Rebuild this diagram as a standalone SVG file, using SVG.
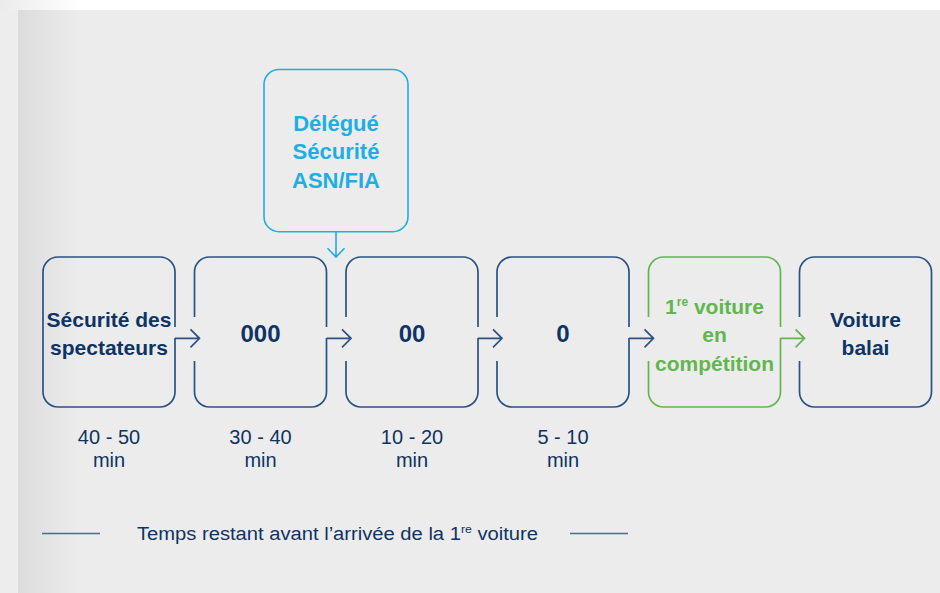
<svg xmlns="http://www.w3.org/2000/svg" width="940" height="593" viewBox="0 0 940 593">
<defs>
<linearGradient id="gTop" x1="0" y1="0" x2="1" y2="0"><stop offset="0" stop-color="#ebebeb"/><stop offset="1" stop-color="#ffffff"/></linearGradient>
<linearGradient id="gLeft" x1="0" y1="0" x2="1" y2="0"><stop offset="0" stop-color="#dcdcdc"/><stop offset="1" stop-color="#ececec"/></linearGradient>
<style>
.box{fill:none;stroke:#2a5284;stroke-width:1.7;stroke-linecap:butt}
.green{fill:none;stroke:#62b64f;stroke-width:1.7}
.cyan{fill:none;stroke:#1eaee3;stroke-width:1.6}
.conn{fill:none;stroke:#2a5284;stroke-width:1.7}
.t{font-family:"Liberation Sans",Arial,sans-serif;font-weight:bold;font-size:21px;text-anchor:middle;fill:#0e3466}
.num{font-size:24px}
.tg{fill:#62b64f}
.tc{fill:#1eaee3;font-size:22px}
.lab{font-family:"Liberation Sans",Arial,sans-serif;font-size:20px;text-anchor:middle;fill:#0e3466}
.foot{font-family:"Liberation Sans",Arial,sans-serif;font-size:18px;fill:#0e3466}
.rule{stroke:#4a6a90;stroke-width:1.6}
</style>
</defs>
<rect width="940" height="593" fill="#ffffff"/>
<rect x="0" y="0" width="80" height="10" fill="url(#gTop)"/>
<rect x="0" y="10" width="18" height="583" fill="#ededed"/>
<rect x="18" y="10" width="922" height="583" fill="#ececec"/>
<rect x="18" y="10" width="62" height="583" fill="url(#gLeft)"/>

<g id="delegue">
<rect class="cyan" x="264" y="69.5" width="144" height="162.2" rx="15"/>
<text class="t tc" x="336" y="130.5">Délégué</text>
<text class="t tc" x="336" y="159">Sécurité</text>
<text class="t tc" x="336" y="188">ASN/FIA</text>
</g>

<g id="securite-spectateurs">
<path class="box" d="M175,327 L175,272 A15,15 0 0 0 160,257 L58,257 A15,15 0 0 0 43,272 L43,392 A15,15 0 0 0 58,407 L160,407 A15,15 0 0 0 175,392 L175,338"/>
<text class="t" x="109" y="327">Sécurité des</text>
<text class="t" x="109" y="355">spectateurs</text>
</g>

<g id="n000">
<path class="box" d="M194.5,317 L194.5,272 A15,15 0 0 1 209.5,257 L311.5,257 A15,15 0 0 1 326.5,272 L326.5,327 M326.5,338 L326.5,392 A15,15 0 0 1 311.5,407 L209.5,407 A15,15 0 0 1 194.5,392 L194.5,361"/>
<text class="t num" x="260.5" y="342">000</text>
</g>

<g id="n00">
<path class="box" d="M346,317 L346,272 A15,15 0 0 1 361,257 L463,257 A15,15 0 0 1 478,272 L478,327 M478,338 L478,392 A15,15 0 0 1 463,407 L361,407 A15,15 0 0 1 346,392 L346,361"/>
<text class="t num" x="412" y="342">00</text>
</g>

<g id="n0">
<path class="box" d="M497,317 L497,272 A15,15 0 0 1 512,257 L614,257 A15,15 0 0 1 629,272 L629,327 M629,338 L629,392 A15,15 0 0 1 614,407 L512,407 A15,15 0 0 1 497,392 L497,361"/>
<text class="t num" x="563" y="342">0</text>
</g>

<g id="premiere-voiture">
<path class="green" d="M648.5,317 L648.5,272 A15,15 0 0 1 663.5,257 L765.5,257 A15,15 0 0 1 780.5,272 L780.5,327 M780.5,338 L780.5,392 A15,15 0 0 1 765.5,407 L663.5,407 A15,15 0 0 1 648.5,392 L648.5,361"/>
<text class="t tg" x="714.5" y="313.5">1<tspan font-size="12" dy="-8">re</tspan><tspan dy="8"> voiture</tspan></text>
<text class="t tg" x="714.5" y="342">en</text>
<text class="t tg" x="714.5" y="370.5">compétition</text>
</g>

<g id="voiture-balai">
<path class="box" d="M799.5,317 L799.5,272 A15,15 0 0 1 814.5,257 L916.5,257 A15,15 0 0 1 931.5,272 L931.5,392 A15,15 0 0 1 916.5,407 L814.5,407 A15,15 0 0 1 799.5,392 L799.5,361"/>
<text class="t" x="865.5" y="327">Voiture</text>
<text class="t" x="865.5" y="355">balai</text>
</g>

<g id="connectors">
<path class="conn" d="M175,338.3 L199.5,338.3 M190.5,329.3 L199.5,338.3 L190.5,347.3"/>
<path class="conn" d="M326.5,338.3 L351,338.3 M342,329.3 L351,338.3 L342,347.3"/>
<path class="conn" d="M478,338.3 L502,338.3 M493,329.3 L502,338.3 L493,347.3"/>
<path class="conn" d="M629,338.3 L653.5,338.3 M644.5,329.3 L653.5,338.3 L644.5,347.3"/>
<path class="green" d="M780.5,338.3 L804.5,338.3 M795.5,329.3 L804.5,338.3 L795.5,347.3"/>
<path class="cyan" d="M336,231.7 L336,257 M327.5,248.3 L336,257 L344.5,248.3"/>
</g>

<g id="durations">
<text class="lab" x="109" y="444">40 - 50</text>
<text class="lab" x="109" y="467">min</text>
<text class="lab" x="260.5" y="444">30 - 40</text>
<text class="lab" x="260.5" y="467">min</text>
<text class="lab" x="412" y="444">10 - 20</text>
<text class="lab" x="412" y="467">min</text>
<text class="lab" x="563" y="444">5 - 10</text>
<text class="lab" x="563" y="467">min</text>
</g>

<g id="legend">
<line class="rule" x1="42" y1="533.5" x2="100" y2="533.5"/>
<line class="rule" x1="570" y1="533.5" x2="628" y2="533.5"/>
<text class="foot" x="137" y="540" textLength="401" lengthAdjust="spacingAndGlyphs">Temps restant avant l’arrivée de la 1<tspan font-size="11" dy="-7">re</tspan><tspan dy="7"> voiture</tspan></text>
</g>
</svg>
